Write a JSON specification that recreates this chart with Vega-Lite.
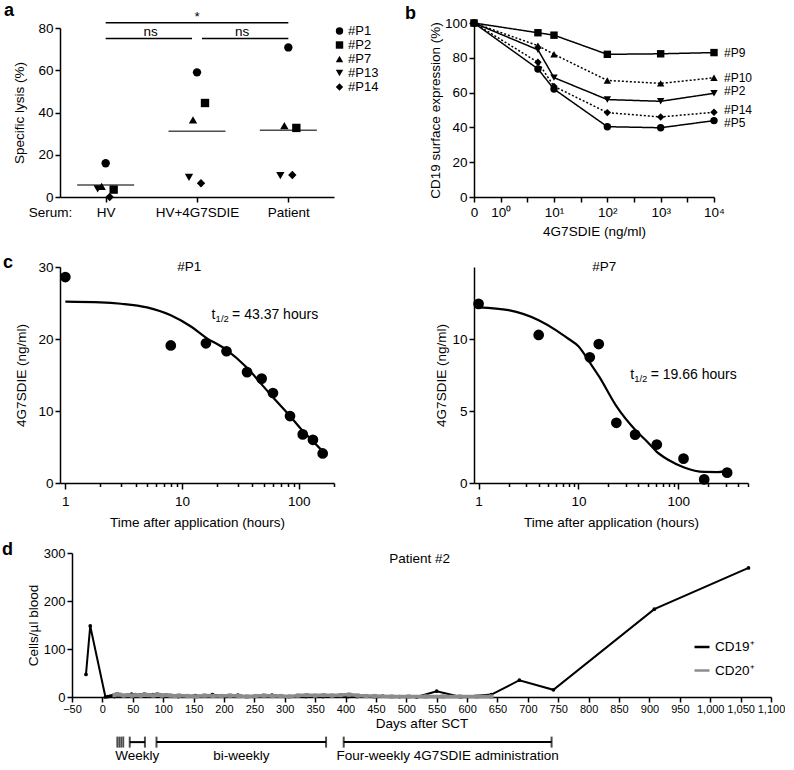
{
 "$schema": "https://vega.github.io/schema/vega-lite/v6.json",
 "background": "white",
 "padding": {"left": 2, "top": 1, "right": 0, "bottom": 0},
 "config": {
  "font": "Liberation Sans",
  "view": {"stroke": null},
  "axis": {"grid": false, "domainColor": "black", "tickColor": "black", "labelColor": "black", "titleColor": "black", "domainWidth": 1.5, "tickWidth": 1.5, "tickSize": 5, "labelFontSize": 13.5, "titleFontSize": 13.5, "titleFontWeight": "normal", "labelFlush": false, "labelOverlap": false, "labelPadding": 2},
  "legend": {"labelColor": "black"},
  "title": {"color": "black", "fontSize": 18, "fontWeight": "bold", "anchor": "start", "frame": "group", "baseline": "bottom"},
  "text": {"color": "black", "fontSize": 13.5}
 },
 "datasets": {
  "lysis": [
   {"serum": "HV", "donor": "#P1", "lysis": 16.0},
   {"serum": "HV", "donor": "#P2", "lysis": 3.5},
   {"serum": "HV", "donor": "#P7", "lysis": 5.0},
   {"serum": "HV", "donor": "#P13", "lysis": 3.8},
   {"serum": "HV", "donor": "#P14", "lysis": 0.0},
   {"serum": "HV+4G7SDIE", "donor": "#P1", "lysis": 59.0},
   {"serum": "HV+4G7SDIE", "donor": "#P2", "lysis": 44.5},
   {"serum": "HV+4G7SDIE", "donor": "#P7", "lysis": 36.5},
   {"serum": "HV+4G7SDIE", "donor": "#P13", "lysis": 9.3},
   {"serum": "HV+4G7SDIE", "donor": "#P14", "lysis": 6.5},
   {"serum": "Patient", "donor": "#P1", "lysis": 70.8},
   {"serum": "Patient", "donor": "#P2", "lysis": 32.7},
   {"serum": "Patient", "donor": "#P7", "lysis": 33.8},
   {"serum": "Patient", "donor": "#P13", "lysis": 10.1},
   {"serum": "Patient", "donor": "#P14", "lysis": 10.4}
  ],
  "sig": [
   {"from": "HV", "to": "HV+4G7SDIE", "level": 75, "label": "ns"},
   {"from": "HV+4G7SDIE", "to": "Patient", "level": 75, "label": "ns"},
   {"from": "HV", "to": "Patient", "level": 82.5, "label": "*", "at": "HV+4G7SDIE"}
  ],
  "cd19": [
   {"line": "#P9", "conc": 0, "expr": 100}, {"line": "#P9", "conc": 5, "expr": 94.4}, {"line": "#P9", "conc": 10, "expr": 93.0}, {"line": "#P9", "conc": 100, "expr": 82.0}, {"line": "#P9", "conc": 1000, "expr": 82.3}, {"line": "#P9", "conc": 10000, "expr": 83.0},
   {"line": "#P10", "conc": 0, "expr": 100}, {"line": "#P10", "conc": 5, "expr": 87.0}, {"line": "#P10", "conc": 10, "expr": 82.0}, {"line": "#P10", "conc": 100, "expr": 67.0}, {"line": "#P10", "conc": 1000, "expr": 65.3}, {"line": "#P10", "conc": 10000, "expr": 68.5},
   {"line": "#P2", "conc": 0, "expr": 100}, {"line": "#P2", "conc": 5, "expr": 84.6}, {"line": "#P2", "conc": 10, "expr": 68.6}, {"line": "#P2", "conc": 100, "expr": 56.0}, {"line": "#P2", "conc": 1000, "expr": 55.0}, {"line": "#P2", "conc": 10000, "expr": 59.6},
   {"line": "#P14", "conc": 0, "expr": 100}, {"line": "#P14", "conc": 5, "expr": 77.4}, {"line": "#P14", "conc": 10, "expr": 63.6}, {"line": "#P14", "conc": 100, "expr": 48.5}, {"line": "#P14", "conc": 1000, "expr": 46.0}, {"line": "#P14", "conc": 10000, "expr": 48.7},
   {"line": "#P5", "conc": 0, "expr": 100}, {"line": "#P5", "conc": 5, "expr": 73.6}, {"line": "#P5", "conc": 10, "expr": 62.0}, {"line": "#P5", "conc": 100, "expr": 40.4}, {"line": "#P5", "conc": 1000, "expr": 39.8}, {"line": "#P5", "conc": 10000, "expr": 43.9}
  ],
  "p1": [
   {"t": 1, "c": 28.6}, {"t": 8, "c": 19.1}, {"t": 16, "c": 19.4}, {"t": 24, "c": 18.3}, {"t": 36, "c": 15.4}, {"t": 48, "c": 14.5}, {"t": 60, "c": 12.5}, {"t": 84, "c": 9.3}, {"t": 108, "c": 6.75}, {"t": 132, "c": 6.0}, {"t": 160, "c": 4.1}
  ],
  "p1curve": [
   {"t": 1, "c": 25.2}, {"t": 2, "c": 25.1}, {"t": 3, "c": 24.9}, {"t": 5, "c": 24.4}, {"t": 8, "c": 23.3}, {"t": 12, "c": 21.7}, {"t": 16, "c": 20.2}, {"t": 24, "c": 18.5}, {"t": 36, "c": 16.0}, {"t": 48, "c": 13.7}, {"t": 60, "c": 11.9}, {"t": 85, "c": 9.2}, {"t": 107, "c": 7.3}, {"t": 132, "c": 5.8}, {"t": 160, "c": 4.4}
  ],
  "p7": [
   {"t": 1, "c": 12.44}, {"t": 4, "c": 10.28}, {"t": 13, "c": 8.73}, {"t": 16, "c": 9.65}, {"t": 24, "c": 4.18}, {"t": 37, "c": 3.36}, {"t": 61, "c": 2.67}, {"t": 113, "c": 1.69}, {"t": 182, "c": 0.25}, {"t": 309, "c": 0.72}
  ],
  "p7curve": [
   {"t": 1, "c": 12.2}, {"t": 2, "c": 12.0}, {"t": 4, "c": 11.3}, {"t": 6, "c": 10.6}, {"t": 8, "c": 10.0}, {"t": 10, "c": 9.5}, {"t": 13.2, "c": 8.3}, {"t": 16.1, "c": 7.4}, {"t": 24.2, "c": 5.3}, {"t": 37.4, "c": 3.66}, {"t": 50, "c": 2.8}, {"t": 61, "c": 2.16}, {"t": 80, "c": 1.6}, {"t": 113, "c": 1.1}, {"t": 182, "c": 0.77}, {"t": 250, "c": 0.76}, {"t": 309, "c": 0.84}
  ],
  "cells": [
   {"cell": "CD19⁺", "day": -27, "n": 47}, {"cell": "CD19⁺", "day": -20, "n": 148}, {"cell": "CD19⁺", "day": 5, "n": 0}, {"cell": "CD19⁺", "day": 9, "n": 1}, {"cell": "CD19⁺", "day": 13, "n": 2}, {"cell": "CD19⁺", "day": 17, "n": 3}, {"cell": "CD19⁺", "day": 20, "n": 1}, {"cell": "CD19⁺", "day": 25, "n": 4}, {"cell": "CD19⁺", "day": 30, "n": 2}, {"cell": "CD19⁺", "day": 34, "n": 3}, {"cell": "CD19⁺", "day": 41, "n": 4}, {"cell": "CD19⁺", "day": 48, "n": 6}, {"cell": "CD19⁺", "day": 55, "n": 5}, {"cell": "CD19⁺", "day": 62, "n": 4}, {"cell": "CD19⁺", "day": 69, "n": 6}, {"cell": "CD19⁺", "day": 76, "n": 3}, {"cell": "CD19⁺", "day": 83, "n": 5}, {"cell": "CD19⁺", "day": 90, "n": 6}, {"cell": "CD19⁺", "day": 97, "n": 4}, {"cell": "CD19⁺", "day": 104, "n": 2}, {"cell": "CD19⁺", "day": 111, "n": 3}, {"cell": "CD19⁺", "day": 125, "n": 1}, {"cell": "CD19⁺", "day": 139, "n": 2}, {"cell": "CD19⁺", "day": 153, "n": 3}, {"cell": "CD19⁺", "day": 167, "n": 2}, {"cell": "CD19⁺", "day": 181, "n": 5}, {"cell": "CD19⁺", "day": 195, "n": 2}, {"cell": "CD19⁺", "day": 209, "n": 3}, {"cell": "CD19⁺", "day": 223, "n": 4}, {"cell": "CD19⁺", "day": 237, "n": 1}, {"cell": "CD19⁺", "day": 251, "n": 2}, {"cell": "CD19⁺", "day": 265, "n": 3}, {"cell": "CD19⁺", "day": 279, "n": 4}, {"cell": "CD19⁺", "day": 293, "n": 2}, {"cell": "CD19⁺", "day": 307, "n": 1}, {"cell": "CD19⁺", "day": 321, "n": 2}, {"cell": "CD19⁺", "day": 335, "n": 1}, {"cell": "CD19⁺", "day": 349, "n": 2}, {"cell": "CD19⁺", "day": 363, "n": 1}, {"cell": "CD19⁺", "day": 377, "n": 3}, {"cell": "CD19⁺", "day": 391, "n": 2}, {"cell": "CD19⁺", "day": 405, "n": 1}, {"cell": "CD19⁺", "day": 419, "n": 1}, {"cell": "CD19⁺", "day": 433, "n": 2}, {"cell": "CD19⁺", "day": 447, "n": 1}, {"cell": "CD19⁺", "day": 461, "n": 2}, {"cell": "CD19⁺", "day": 489, "n": 1}, {"cell": "CD19⁺", "day": 517, "n": 0}, {"cell": "CD19⁺", "day": 550, "n": 12}, {"cell": "CD19⁺", "day": 590, "n": 0}, {"cell": "CD19⁺", "day": 640, "n": 5}, {"cell": "CD19⁺", "day": 686, "n": 35}, {"cell": "CD19⁺", "day": 742, "n": 15}, {"cell": "CD19⁺", "day": 908, "n": 183}, {"cell": "CD19⁺", "day": 1063, "n": 269},
   {"cell": "CD20⁺", "day": 20, "n": 4}, {"cell": "CD20⁺", "day": 24, "n": 6}, {"cell": "CD20⁺", "day": 28, "n": 5}, {"cell": "CD20⁺", "day": 35, "n": 3}, {"cell": "CD20⁺", "day": 42, "n": 4}, {"cell": "CD20⁺", "day": 49, "n": 3}, {"cell": "CD20⁺", "day": 56, "n": 4}, {"cell": "CD20⁺", "day": 63, "n": 3}, {"cell": "CD20⁺", "day": 70, "n": 5}, {"cell": "CD20⁺", "day": 77, "n": 4}, {"cell": "CD20⁺", "day": 84, "n": 3}, {"cell": "CD20⁺", "day": 91, "n": 5}, {"cell": "CD20⁺", "day": 98, "n": 3}, {"cell": "CD20⁺", "day": 105, "n": 4}, {"cell": "CD20⁺", "day": 112, "n": 3}, {"cell": "CD20⁺", "day": 119, "n": 2}, {"cell": "CD20⁺", "day": 126, "n": 3}, {"cell": "CD20⁺", "day": 140, "n": 2}, {"cell": "CD20⁺", "day": 154, "n": 1}, {"cell": "CD20⁺", "day": 168, "n": 3}, {"cell": "CD20⁺", "day": 182, "n": 2}, {"cell": "CD20⁺", "day": 196, "n": 2}, {"cell": "CD20⁺", "day": 210, "n": 3}, {"cell": "CD20⁺", "day": 224, "n": 2}, {"cell": "CD20⁺", "day": 238, "n": 1}, {"cell": "CD20⁺", "day": 252, "n": 2}, {"cell": "CD20⁺", "day": 266, "n": 3}, {"cell": "CD20⁺", "day": 280, "n": 2}, {"cell": "CD20⁺", "day": 294, "n": 2}, {"cell": "CD20⁺", "day": 308, "n": 1}, {"cell": "CD20⁺", "day": 322, "n": 3}, {"cell": "CD20⁺", "day": 336, "n": 4}, {"cell": "CD20⁺", "day": 350, "n": 3}, {"cell": "CD20⁺", "day": 364, "n": 4}, {"cell": "CD20⁺", "day": 378, "n": 3}, {"cell": "CD20⁺", "day": 392, "n": 4}, {"cell": "CD20⁺", "day": 406, "n": 5}, {"cell": "CD20⁺", "day": 420, "n": 3}, {"cell": "CD20⁺", "day": 434, "n": 2}, {"cell": "CD20⁺", "day": 448, "n": 2}, {"cell": "CD20⁺", "day": 476, "n": 1}, {"cell": "CD20⁺", "day": 504, "n": 1}, {"cell": "CD20⁺", "day": 532, "n": 1}, {"cell": "CD20⁺", "day": 560, "n": 1}, {"cell": "CD20⁺", "day": 588, "n": 1}, {"cell": "CD20⁺", "day": 616, "n": 1}, {"cell": "CD20⁺", "day": 640, "n": 1}
  ],
  "brackets": [
   {"name": "Weekly", "start": 45, "end": 70},
   {"name": "bi-weekly", "start": 89, "end": 368},
   {"name": "Four-weekly 4G7SDIE administration", "start": 397, "end": 739}
  ],
  "doses": [{"day": 24.5}, {"day": 27.8}, {"day": 31.1}, {"day": 34.4}]
 },
 "columns": 2,
 "align": "each",
 "bounds": "flush",
 "spacing": {"row": 70, "column": 140},
 "resolve": {"scale": {"x": "independent", "y": "independent", "shape": "independent", "color": "independent", "strokeDash": "independent"}, "legend": {"shape": "independent", "color": "independent"}},
 "concat": [
  {
   "width": 274, "height": 174,
   "title": {"text": "a", "dx": -56, "offset": -10},
   "layer": [
    {
     "data": {"name": "lysis"},
     "transform": [{"aggregate": [{"op": "mean", "field": "lysis", "as": "mean"}], "groupby": ["serum"]}],
     "mark": {"type": "tick", "orient": "horizontal", "size": 57, "thickness": 1.5, "color": "black"},
     "encoding": {
      "x": {"field": "serum", "type": "nominal", "scale": {"type": "point", "domain": ["HV", "HV+4G7SDIE", "Patient"], "padding": 0.5}, "axis": {"title": "Serum:", "labelAngle": 0, "titleX": -10, "titleY": 19, "titleAlign": "center", "titleBaseline": "alphabetic", "labelPadding": 3}},
      "y": {"field": "mean", "type": "quantitative", "scale": {"domain": [0, 80], "nice": false, "range": [174, 5]}, "axis": {"title": "Specific lysis (%)", "values": [0, 20, 40, 60, 80], "tickCount": 50, "format": "d", "titlePadding": 11}}
     }
    },
    {
     "data": {"name": "lysis"},
     "mark": {"type": "point", "filled": true, "color": "black", "opacity": 1, "size": 70},
     "encoding": {
      "x": {"field": "serum", "type": "nominal"},
      "xOffset": {"field": "donor", "type": "nominal", "scale": {"type": "point", "domain": ["#P13", "#P7", "#P1", "#P14", "#P2"], "range": [-8, 8], "padding": 0}},
      "y": {"field": "lysis", "type": "quantitative"},
      "shape": {"field": "donor", "type": "nominal", "scale": {"domain": ["#P1", "#P2", "#P7", "#P13", "#P14"], "range": ["circle", "square", "triangle-up", "triangle-down", "diamond"]}, "legend": {"orient": "none", "legendX": 273, "legendY": 1.5, "title": null, "labelFontSize": 13, "symbolSize": 55, "rowPadding": -1, "labelOffset": 2, "padding": 0}}
     }
    },
    {
     "data": {"name": "sig"},
     "transform": [{"filter": "datum.label === 'ns' && datum.from === 'HV'"}],
     "mark": {"type": "rule", "strokeWidth": 1.5, "color": "black", "x2Offset": -5},
     "encoding": {"x": {"field": "from", "type": "nominal"}, "x2": {"field": "to"}, "y": {"field": "level", "type": "quantitative"}}
    },
    {
     "data": {"name": "sig"},
     "transform": [{"filter": "datum.label === 'ns' && datum.from === 'HV+4G7SDIE'"}],
     "mark": {"type": "rule", "strokeWidth": 1.5, "color": "black", "xOffset": 5},
     "encoding": {"x": {"field": "from", "type": "nominal"}, "x2": {"field": "to"}, "y": {"field": "level", "type": "quantitative"}}
    },
    {
     "data": {"name": "sig"},
     "transform": [{"filter": "datum.label === '*'"}],
     "mark": {"type": "rule", "strokeWidth": 1.5, "color": "black"},
     "encoding": {"x": {"field": "from", "type": "nominal"}, "x2": {"field": "to"}, "y": {"field": "level", "type": "quantitative"}}
    },
    {
     "data": {"name": "sig"},
     "transform": [{"filter": "datum.label === 'ns'"}],
     "mark": {"type": "text", "dx": 45, "baseline": "bottom", "fontSize": 13.5},
     "encoding": {"x": {"field": "from", "type": "nominal"}, "y": {"field": "level", "type": "quantitative"}, "text": {"field": "label"}}
    },
    {
     "data": {"name": "sig"},
     "transform": [{"filter": "datum.label === '*'"}],
     "mark": {"type": "text", "baseline": "bottom", "fontSize": 13.5, "dy": 1},
     "encoding": {"x": {"field": "at", "type": "nominal"}, "y": {"field": "level", "type": "quantitative"}, "text": {"field": "label"}}
    }
   ]
  },
  {
   "width": 240, "height": 174,
   "title": {"text": "b", "dx": -69, "offset": -7},
   "data": {"name": "cd19"},
   "transform": [{"calculate": "datum.conc === 0 ? -0.5 : log(datum.conc) / LN10", "as": "xl"}],
   "encoding": {
    "x": {"field": "xl", "type": "quantitative", "scale": {"domain": [-0.5, 4], "nice": false, "zero": false}, "axis": {"title": "4G7SDIE (ng/ml)", "values": [-0.5, 0, 0.5, 1, 1.5, 2, 2.5, 3, 3.5, 4], "tickCount": 50, "labelExpr": "datum.value === -0.5 ? '0' : datum.value === 0 ? '10⁰' : datum.value === 1 ? '10¹' : datum.value === 2 ? '10²' : datum.value === 3 ? '10³' : datum.value === 4 ? '10⁴' : ''", "labelPadding": 3, "titlePadding": 6}},
    "y": {"field": "expr", "type": "quantitative", "scale": {"domain": [0, 100], "nice": false}, "axis": {"title": "CD19 surface expression (%)", "values": [0, 20, 40, 60, 80, 100], "tickCount": 50, "format": "d", "titlePadding": 2}}
   },
   "layer": [
    {"mark": {"type": "line", "color": "black", "strokeWidth": 1.5}, "encoding": {"detail": {"field": "line", "type": "nominal"}, "strokeDash": {"field": "line", "type": "nominal", "scale": {"domain": ["#P9", "#P10", "#P2", "#P14", "#P5"], "range": [[1, 0], [2, 2], [1, 0], [2, 2], [1, 0]]}, "legend": null}}},
    {"data": {"values": [{}]}, "mark": {"type": "rect", "color": "white", "opacity": 1}, "encoding": {"x": {"datum": -0.33}, "x2": {"datum": -0.06}, "y": {"datum": -2.5}, "y2": {"datum": 99}}},
    {"mark": {"type": "point", "filled": true, "color": "black", "opacity": 1, "size": 55}, "encoding": {"shape": {"field": "line", "type": "nominal", "scale": {"domain": ["#P9", "#P10", "#P2", "#P14", "#P5"], "range": ["square", "triangle-up", "triangle-down", "diamond", "circle"]}, "legend": null}}},
    {"transform": [{"filter": "datum.conc === 10000 && (datum.line === '#P9' || datum.line === '#P10')"}], "mark": {"type": "text", "align": "left", "dx": 10, "fontSize": 12, "baseline": "middle"}, "encoding": {"text": {"field": "line"}}},
    {"transform": [{"filter": "datum.conc === 10000 && (datum.line === '#P2' || datum.line === '#P14')"}], "mark": {"type": "text", "align": "left", "dx": 10, "dy": -2.5, "fontSize": 12, "baseline": "middle"}, "encoding": {"text": {"field": "line"}}},
    {"transform": [{"filter": "datum.conc === 10000 && datum.line === '#P5'"}], "mark": {"type": "text", "align": "left", "dx": 10, "dy": 2.5, "fontSize": 12, "baseline": "middle"}, "encoding": {"text": {"field": "line"}}}
   ]
  },
  {
   "width": 274, "height": 216,
   "title": {"text": "c", "dx": -57, "offset": -12},
   "layer": [
    {
     "data": {"name": "p1curve"},
     "mark": {"type": "line", "color": "black", "strokeWidth": 2.2, "interpolate": "monotone"},
     "encoding": {
      "x": {"field": "t", "type": "quantitative", "scale": {"type": "log", "domain": [0.9, 200], "nice": false}, "axis": {"title": "Time after application (hours)", "values": [1, 2, 3, 4, 5, 6, 7, 8, 9, 10, 20, 30, 40, 50, 60, 70, 80, 90, 100, 200], "tickCount": 50, "labelExpr": "datum.value === 1 || datum.value === 10 || datum.value === 100 ? '' + datum.value : ''", "tickSize": {"condition": {"test": "datum.value === 1 || datum.value === 10 || datum.value === 100", "value": 6}, "value": 3.5}, "labelPadding": 5, "titlePadding": 8}},
      "y": {"field": "c", "type": "quantitative", "scale": {"domain": [0, 30], "nice": false}, "axis": {"title": "4G7SDIE (ng/ml)", "values": [0, 10, 20, 30], "tickCount": 50, "format": "d", "titlePadding": 9.5}}
     }
    },
    {
     "data": {"name": "p1"},
     "mark": {"type": "circle", "color": "black", "opacity": 1, "size": 115},
     "encoding": {"x": {"field": "t", "type": "quantitative"}, "y": {"field": "c", "type": "quantitative"}}
    },
    {"data": {"values": [{}]}, "mark": {"type": "text", "text": "#P1", "fontSize": 13.5, "baseline": "middle"}, "encoding": {"x": {"datum": 11.5}, "y": {"datum": 30}}},
    {"data": {"values": [{}]}, "mark": {"type": "text", "text": "t", "fontSize": 14, "align": "left", "baseline": "alphabetic"}, "encoding": {"x": {"datum": 17.9}, "y": {"datum": 22.8}}},
    {"data": {"values": [{}]}, "mark": {"type": "text", "text": "1/2", "fontSize": 9.5, "align": "left", "baseline": "alphabetic", "dx": 4, "dy": 3}, "encoding": {"x": {"datum": 17.9}, "y": {"datum": 22.8}}},
    {"data": {"values": [{}]}, "mark": {"type": "text", "text": "= 43.37 hours", "fontSize": 14, "align": "left", "baseline": "alphabetic", "dx": 20.5}, "encoding": {"x": {"datum": 17.9}, "y": {"datum": 22.8}}}
   ]
  },
  {
   "width": 274, "height": 216,
   "layer": [
    {
     "data": {"name": "p7curve"},
     "mark": {"type": "line", "color": "black", "strokeWidth": 2.2, "interpolate": "monotone"},
     "encoding": {
      "x": {"field": "t", "type": "quantitative", "scale": {"type": "log", "domain": [0.9, 500], "nice": false}, "axis": {"title": "Time after application (hours)", "values": [1, 2, 3, 4, 5, 6, 7, 8, 9, 10, 20, 30, 40, 50, 60, 70, 80, 90, 100, 200, 300, 400, 500], "tickCount": 50, "labelExpr": "datum.value === 1 || datum.value === 10 || datum.value === 100 ? '' + datum.value : ''", "tickSize": {"condition": {"test": "datum.value === 1 || datum.value === 10 || datum.value === 100", "value": 6}, "value": 3.5}, "labelPadding": 5, "titlePadding": 8}},
      "y": {"field": "c", "type": "quantitative", "scale": {"domain": [0, 15], "nice": false}, "axis": {"title": "4G7SDIE (ng/ml)", "values": [0, 5, 10], "tickCount": 50, "format": "d", "titlePadding": 3.5}}
     }
    },
    {
     "data": {"name": "p7"},
     "mark": {"type": "circle", "color": "black", "opacity": 1, "size": 115},
     "encoding": {"x": {"field": "t", "type": "quantitative"}, "y": {"field": "c", "type": "quantitative"}}
    },
    {"data": {"values": [{}]}, "mark": {"type": "text", "text": "#P7", "fontSize": 13.5, "baseline": "middle"}, "encoding": {"x": {"datum": 18.2}, "y": {"datum": 15}}},
    {"data": {"values": [{}]}, "mark": {"type": "text", "text": "t", "fontSize": 14, "align": "left", "baseline": "alphabetic"}, "encoding": {"x": {"datum": 33}, "y": {"datum": 7.19}}},
    {"data": {"values": [{}]}, "mark": {"type": "text", "text": "1/2", "fontSize": 9.5, "align": "left", "baseline": "alphabetic", "dx": 4, "dy": 3}, "encoding": {"x": {"datum": 33}, "y": {"datum": 7.19}}},
    {"data": {"values": [{}]}, "mark": {"type": "text", "text": "= 19.66 hours", "fontSize": 14, "align": "left", "baseline": "alphabetic", "dx": 20.5}, "encoding": {"x": {"datum": 33}, "y": {"datum": 7.19}}}
   ]
  },
  {
   "width": 274, "height": 144,
   "title": {"text": "d", "dx": -58, "offset": -12},
   "layer": [
    {
     "data": {"name": "cells"},
     "transform": [{"filter": "datum.cell === 'CD19⁺'"}],
     "mark": {"type": "line", "strokeWidth": 2, "point": {"filled": true, "size": 14}},
     "encoding": {
      "x": {"field": "day", "type": "quantitative", "scale": {"domain": [-50, 1100], "nice": false, "zero": false, "range": [12, 711]}, "axis": {"title": "Days after SCT", "titleX": 361.5, "values": [-50, 0, 50, 100, 150, 200, 250, 300, 350, 400, 450, 500, 550, 600, 650, 700, 750, 800, 850, 900, 950, 1000, 1050, 1100], "tickCount": 100, "format": ",.0f", "labelFontSize": 11, "labelPadding": 1.5, "titlePadding": 2, "labelOverlap": false, "labelBound": false}},
      "y": {"field": "n", "type": "quantitative", "scale": {"domain": [0, 300], "nice": false}, "axis": {"title": "Cells/µl blood", "values": [0, 100, 200, 300], "tickCount": 50, "format": "d", "labelFontSize": 13, "titlePadding": 3, "offset": -12}},
      "color": {"field": "cell", "type": "nominal", "scale": {"domain": ["CD19⁺", "CD20⁺"], "range": ["black", "#8c8c8c"]}, "legend": {"orient": "none", "legendX": 633, "legendY": 85, "title": null, "symbolType": "stroke", "symbolStrokeWidth": 2.5, "symbolSize": 225, "labelFontSize": 13.5, "rowPadding": 7.5, "labelOffset": 4, "padding": 0}}
     }
    },
    {
     "data": {"name": "cells"},
     "transform": [{"filter": "datum.cell === 'CD20⁺'"}],
     "mark": {"type": "line", "strokeWidth": 3.5, "point": {"filled": true, "shape": "square", "size": 18}},
     "encoding": {"x": {"field": "day", "type": "quantitative"}, "y": {"field": "n", "type": "quantitative"}, "color": {"field": "cell", "type": "nominal"}}
    },
    {"data": {"values": [{}]}, "mark": {"type": "text", "text": "Patient #2", "fontSize": 13.5, "baseline": "middle"}, "encoding": {"x": {"datum": 522}, "y": {"datum": 287.5}}},
    {"data": {"name": "brackets"}, "mark": {"type": "rule", "strokeWidth": 2, "color": "black"}, "encoding": {"x": {"field": "start", "type": "quantitative"}, "x2": {"field": "end"}, "y": {"datum": -94}}},
    {"data": {"name": "brackets"}, "mark": {"type": "tick", "orient": "vertical", "size": 11, "thickness": 2, "color": "black"}, "encoding": {"x": {"field": "start", "type": "quantitative"}, "y": {"datum": -94}}},
    {"data": {"name": "brackets"}, "mark": {"type": "tick", "orient": "vertical", "size": 11, "thickness": 2, "color": "black"}, "encoding": {"x": {"field": "end", "type": "quantitative"}, "y": {"datum": -94}}},
    {"data": {"name": "doses"}, "mark": {"type": "tick", "orient": "vertical", "size": 11, "thickness": 1.8, "color": "black"}, "encoding": {"x": {"field": "day", "type": "quantitative"}, "y": {"datum": -94}}},
    {"data": {"name": "brackets"}, "transform": [{"calculate": "(datum.start + datum.end) / 2", "as": "mid"}], "mark": {"type": "text", "dy": 14, "fontSize": 13.5, "baseline": "middle"}, "encoding": {"x": {"field": "mid", "type": "quantitative"}, "y": {"datum": -94}, "text": {"field": "name"}}}
   ]
  }
 ]
}
